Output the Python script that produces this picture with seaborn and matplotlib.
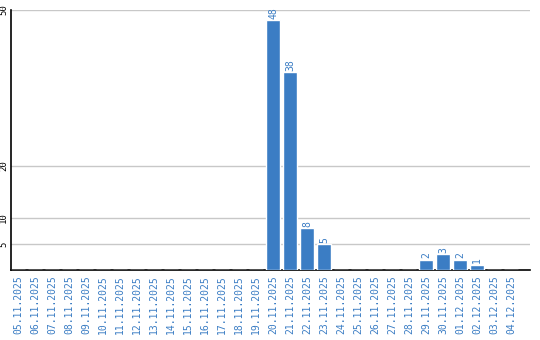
import matplotlib
matplotlib.use("Agg")
import matplotlib.pyplot as plt
import seaborn as sns
import pandas as pd

dates = ["05.11.2025", "06.11.2025", "07.11.2025", "08.11.2025", "09.11.2025",
         "10.11.2025", "11.11.2025", "12.11.2025", "13.11.2025", "14.11.2025",
         "15.11.2025", "16.11.2025", "17.11.2025", "18.11.2025", "19.11.2025",
         "20.11.2025", "21.11.2025", "22.11.2025", "23.11.2025", "24.11.2025",
         "25.11.2025", "26.11.2025", "27.11.2025", "28.11.2025", "29.11.2025",
         "30.11.2025", "01.12.2025", "02.12.2025", "03.12.2025", "04.12.2025"]
counts = [0, 0, 0, 0, 0, 0, 0, 0, 0, 0, 0, 0, 0, 0, 0,
          48, 38, 8, 5, 0, 0, 0, 0, 0, 2, 3, 2, 1, 0, 0]
y_ticks = [5, 10, 20, 50]

sns.set_style("white")
plt.rcParams['font.family'] = ['DejaVu Sans Mono', 'DejaVu Sans']

blue = "#3b7dc4"
df = pd.DataFrame({"date": dates, "count": counts})

fig = plt.figure(figsize=(5.4, 3.4), dpi=100)
ax = fig.add_axes([11/540, 70/340, 519/540, 260/340])
sns.barplot(data=df, x="date", y="count", color=blue, width=0.82,
            saturation=1, ax=ax, zorder=3)

for c in ax.containers:
    labels = [str(v) if v > 0 else "" for v in counts]
    ax.bar_label(c, labels=labels, rotation=90, padding=1, fontsize=7, color=blue)

ax.set_ylim(0, 50)
ax.set_xlim(-0.41, 30.1)
ax.set_yticks(y_ticks)
ax.set_yticklabels([str(t) for t in y_ticks], rotation=90, fontsize=6.5, va="center")
ax.tick_params(axis="y", length=0, pad=2, colors="black")
ax.tick_params(axis="x", length=0, pad=4, labelcolor=blue)
plt.setp(ax.get_xticklabels(), rotation=90, fontsize=7)
ax.yaxis.grid(True, color="#c8c8c8", linewidth=1, zorder=0)
ax.set_axisbelow(True)
ax.set_xlabel("")
ax.set_ylabel("")
for s in ["top", "right"]:
    ax.spines[s].set_visible(False)
for s in ["left", "bottom"]:
    ax.spines[s].set_color("black")
    ax.spines[s].set_linewidth(1.2)

fig.savefig("out.png", dpi=100)
